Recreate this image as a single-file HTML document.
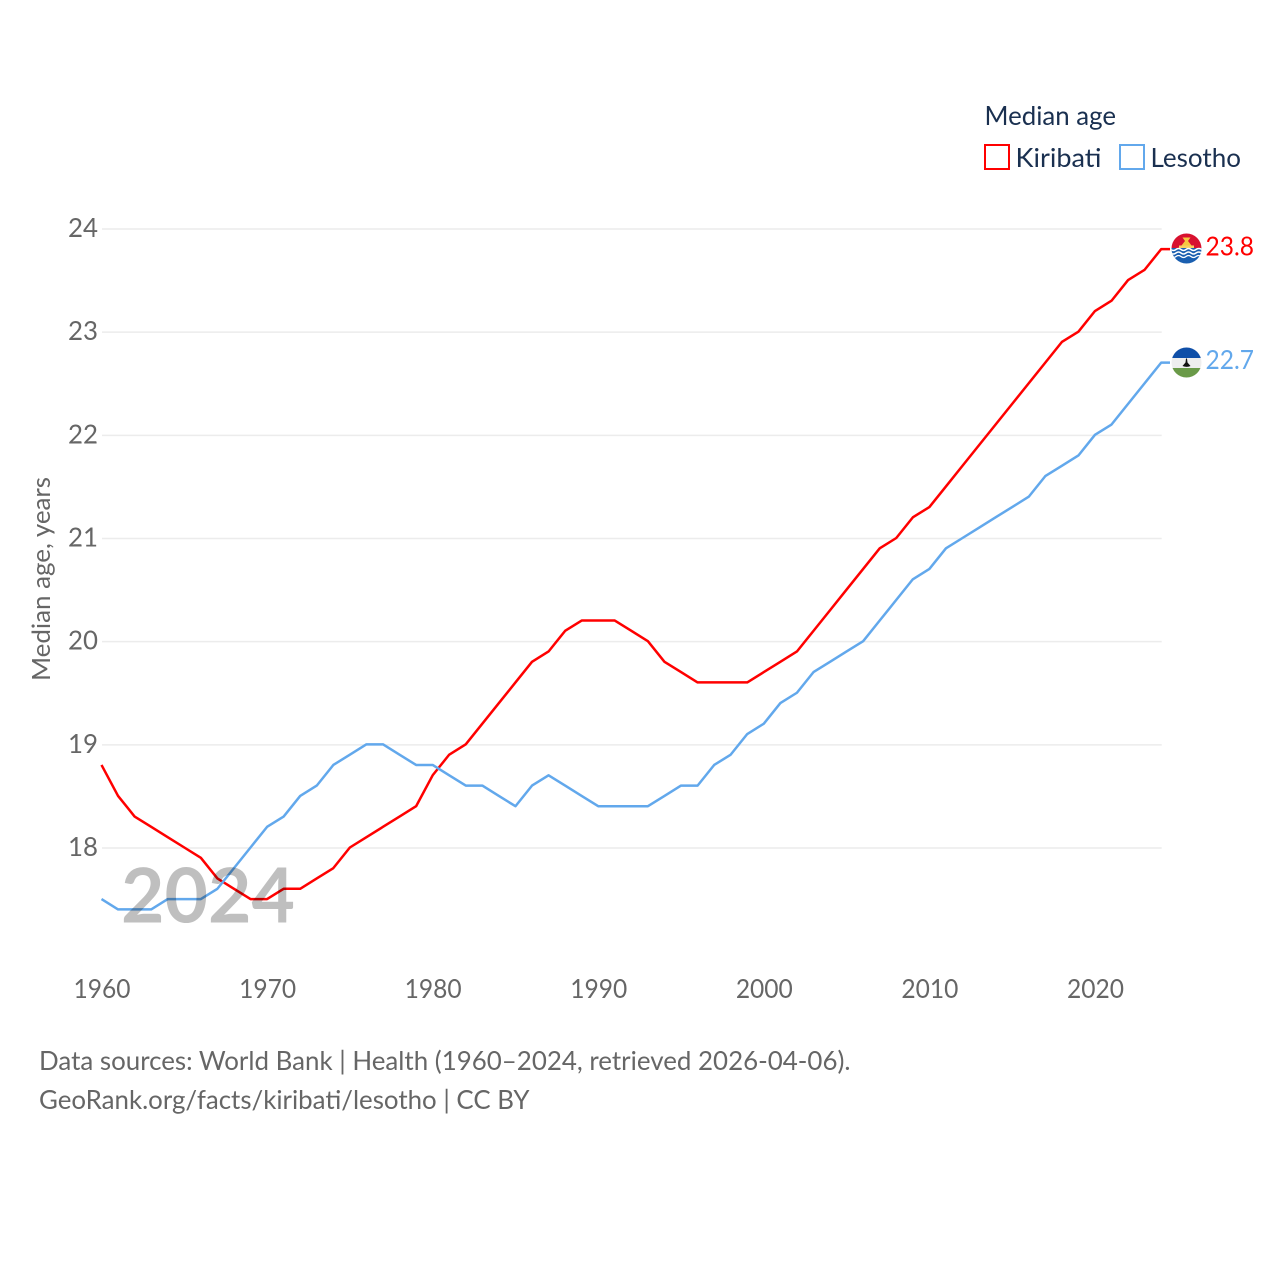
<!DOCTYPE html>
<html lang="en">
<head>
<meta charset="utf-8">
<title>Median age: Kiribati and Lesotho</title>
<style>
html,body{margin:0;padding:0;background:#fff;width:1280px;height:1280px;overflow:hidden}
svg{display:block}
text{font-family:"Lato","Carlito","Liberation Sans",sans-serif}
</style>
</head>
<body>
<svg id="chart" xmlns="http://www.w3.org/2000/svg" width="1280" height="1280" viewBox="0 0 1280 1280">
  <g id="grid"></g>
  <g id="yticks"></g>
  <g id="xticks"></g>
  <text transform="translate(50,579) rotate(-90)" text-anchor="middle" font-size="25" fill="#666" textLength="204" lengthAdjust="spacingAndGlyphs">Median age, years</text>
  <g id="series"></g>
  <text x="121" y="922.500" font-size="76" font-weight="700" fill="#000" fill-opacity="0.25" textLength="174" lengthAdjust="spacingAndGlyphs">2024</text>

  <g>
    <text x="984.500" y="125" font-size="26" fill="#1a3050" textLength="131.500" lengthAdjust="spacingAndGlyphs">Median age</text>
    <g>
      <rect x="985" y="145" width="24" height="24" fill="none" stroke="#ff0000" stroke-width="2"/>
      <text x="1015.500" y="167" font-size="26" fill="#1a3050" textLength="86" lengthAdjust="spacingAndGlyphs">Kiribati</text>
    </g>
    <g>
      <rect x="1120" y="145" width="24" height="24" fill="none" stroke="#62a8ec" stroke-width="2"/>
      <text x="1150.500" y="167" font-size="26" fill="#1a3050" textLength="90.500" lengthAdjust="spacingAndGlyphs">Lesotho</text>
    </g>
  </g>

  <defs>
    <clipPath id="flagClipK"><circle cx="1186.500" cy="248.500" r="15"/></clipPath>
    <clipPath id="flagClipL"><circle cx="1186.500" cy="362.500" r="15"/></clipPath>
  </defs>
  <g clip-path="url(#flagClipK)">
    <rect x="1171" y="233" width="31" height="15" fill="#d8112f"/>
    <rect x="1171" y="248" width="31" height="16" fill="#1a5fb0"/>
    <path d="M1182.500 237.500h8l-2.500 3.500 3.500 4.500h-10l3.500-4.500z" fill="#f7c840"/>
    <rect x="1179" y="245.500" width="15" height="2.500" fill="#f7d060"/>
    <path d="M1171 249.500q2.500 2 5 0t5 0 5 0 5 0 5 0 6 0" fill="none" stroke="#fff" stroke-width="1.500"/>
    <path d="M1171 253q2.500 2 5 0t5 0 5 0 5 0 5 0 6 0" fill="none" stroke="#fff" stroke-width="1.500"/>
    <path d="M1171 256.500q2.500 2 5 0t5 0 5 0 5 0 5 0 6 0" fill="none" stroke="#fff" stroke-width="1.300"/>
  </g>
  <g clip-path="url(#flagClipL)">
    <rect x="1171" y="347" width="31" height="11" fill="#0f4fa8"/>
    <rect x="1171" y="358" width="31" height="10" fill="#eeeeee"/>
    <rect x="1171" y="368" width="31" height="10" fill="#6a9a48"/>
    <path d="M1186 358.500h1l.5 4 3 3.500q-3.500 1.800-8 0l3-3.500z" fill="#111"/>
  </g>

  <text id="footer1" x="39" y="1070" font-size="26" fill="#666" textLength="811.500" lengthAdjust="spacingAndGlyphs">Data sources: World Bank | Health (1960–2024, retrieved 2026-04-06).</text>
  <text id="footer2" x="39" y="1109" font-size="26" fill="#666" textLength="490.500" lengthAdjust="spacingAndGlyphs">GeoRank.org/facts/kiribati/lesotho | CC BY</text>
</svg>
<script>
const years = [1960,1961,1962,1963,1964,1965,1966,1967,1968,1969,1970,1971,1972,1973,1974,1975,1976,1977,1978,1979,1980,1981,1982,1983,1984,1985,1986,1987,1988,1989,1990,1991,1992,1993,1994,1995,1996,1997,1998,1999,2000,2001,2002,2003,2004,2005,2006,2007,2008,2009,2010,2011,2012,2013,2014,2015,2016,2017,2018,2019,2020,2021,2022,2023,2024];
const kiribati = [18.8,18.5,18.3,18.2,18.1,18.0,17.9,17.7,17.6,17.5,17.5,17.6,17.6,17.7,17.8,18.0,18.1,18.2,18.3,18.4,18.7,18.9,19.0,19.2,19.4,19.6,19.8,19.9,20.1,20.2,20.2,20.2,20.1,20.0,19.8,19.7,19.6,19.6,19.6,19.6,19.7,19.8,19.9,20.1,20.3,20.5,20.7,20.9,21.0,21.2,21.3,21.5,21.7,21.9,22.1,22.3,22.5,22.7,22.9,23.0,23.2,23.3,23.5,23.6,23.8];
const lesotho = [17.5,17.4,17.4,17.4,17.5,17.5,17.5,17.6,17.8,18.0,18.2,18.3,18.5,18.6,18.8,18.9,19.0,19.0,18.9,18.8,18.8,18.7,18.6,18.6,18.5,18.4,18.6,18.7,18.6,18.5,18.4,18.4,18.4,18.4,18.5,18.6,18.6,18.8,18.9,19.1,19.2,19.4,19.5,19.7,19.8,19.9,20.0,20.2,20.4,20.6,20.7,20.9,21.0,21.1,21.2,21.3,21.4,21.6,21.7,21.8,22.0,22.1,22.3,22.5,22.7];
const yTickValues = [18,19,20,21,22,23,24];
const xTickValues = [1960,1970,1980,1990,2000,2010,2020];

const NS = 'http://www.w3.org/2000/svg';
const xScale = function (year) { return 101.5 + (year - 1960) * (1161.2 - 101.5) / 64; };
const yScale = function (v) { return 847.5 - (v - 18) * (847.5 - 228.5) / 6; };

const gridGroup = document.getElementById('grid');
const yTickGroup = document.getElementById('yticks');
const xTickGroup = document.getElementById('xticks');
const seriesGroup = document.getElementById('series');

yTickValues.forEach(function (v) {
  const line = document.createElementNS(NS, 'line');
  
  
  line.setAttribute('x1', 102);
  line.setAttribute('x2', 1161.7);
  line.setAttribute('y1', yScale(v) + 0.5);
  line.setAttribute('y2', yScale(v) + 0.5);
  line.setAttribute('stroke', '#ececec');
  line.setAttribute('stroke-width', 1.5);
  gridGroup.appendChild(line);

  const label = document.createElementNS(NS, 'text');
  
  
  label.setAttribute('x', 98);
  label.setAttribute('y', yScale(v) + 8.5);
  label.setAttribute('text-anchor', 'end');
  label.setAttribute('font-size', 26);
  label.setAttribute('fill', '#666');
  label.setAttribute('textLength', 30);
  label.setAttribute('lengthAdjust', 'spacingAndGlyphs');
  label.textContent = String(v);
  yTickGroup.appendChild(label);
});

xTickValues.forEach(function (year) {
  const label = document.createElementNS(NS, 'text');
  
  
  label.setAttribute('x', xScale(year) + 0.5);
  label.setAttribute('y', 998);
  label.setAttribute('text-anchor', 'middle');
  label.setAttribute('font-size', 26);
  label.setAttribute('fill', '#666');
  label.setAttribute('textLength', 57);
  label.setAttribute('lengthAdjust', 'spacingAndGlyphs');
  label.textContent = String(year);
  xTickGroup.appendChild(label);
});

function buildPoints(values) {
  const pts = values.map(function (v, i) {
    return xScale(years[i]).toFixed(2) + ',' + yScale(v).toFixed(2);
  });
  const last = values[values.length - 1];
  pts.push('1170,' + yScale(last).toFixed(2));
  return pts.join(' ');
}

const redLine = document.createElementNS(NS, 'polyline');


redLine.setAttribute('points', buildPoints(kiribati));
redLine.setAttribute('fill', 'none');
redLine.setAttribute('stroke', '#ff0000');
redLine.setAttribute('stroke-width', 2.5);
redLine.setAttribute('stroke-linejoin', 'round');
seriesGroup.appendChild(redLine);

const blueLine = document.createElementNS(NS, 'polyline');


blueLine.setAttribute('points', buildPoints(lesotho));
blueLine.setAttribute('fill', 'none');
blueLine.setAttribute('stroke', '#62a8ec');
blueLine.setAttribute('stroke-width', 2.5);
blueLine.setAttribute('stroke-linejoin', 'round');
seriesGroup.appendChild(blueLine);

const redValue = document.createElementNS(NS, 'text');


redValue.setAttribute('x', 1205.5);
redValue.setAttribute('y', yScale(kiribati[kiribati.length - 1]) + 6.5);
redValue.setAttribute('font-size', 26);
redValue.setAttribute('fill', '#ff0000');
redValue.setAttribute('textLength', 48.5);
redValue.setAttribute('lengthAdjust', 'spacingAndGlyphs');
redValue.textContent = kiribati[kiribati.length - 1].toFixed(1);
seriesGroup.appendChild(redValue);

const blueValue = document.createElementNS(NS, 'text');


blueValue.setAttribute('x', 1205.5);
blueValue.setAttribute('y', yScale(lesotho[lesotho.length - 1]) + 6.5);
blueValue.setAttribute('font-size', 26);
blueValue.setAttribute('fill', '#62a8ec');
blueValue.setAttribute('textLength', 48.5);
blueValue.setAttribute('lengthAdjust', 'spacingAndGlyphs');
blueValue.textContent = lesotho[lesotho.length - 1].toFixed(1);
seriesGroup.appendChild(blueValue);
</script>
</body>
</html>
